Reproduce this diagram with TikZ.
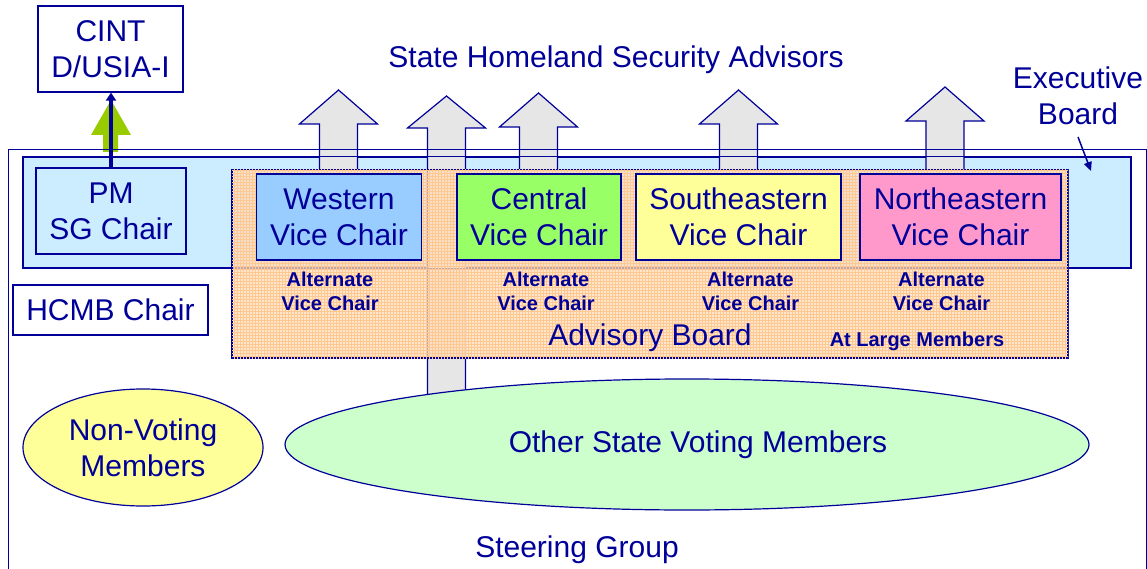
\documentclass[tikz,border=0pt]{standalone}
\usepackage{fontspec}
\setmainfont{Liberation Sans}
\usepackage{tikz}
\usetikzlibrary{shapes,arrows.meta,patterns,positioning}

\definecolor{navy}{HTML}{000099}
\definecolor{execfill}{HTML}{CCECFF}
\definecolor{westfill}{HTML}{99CCFF}
\definecolor{centfill}{HTML}{99FF66}
\definecolor{southfill}{HTML}{FFFF99}
\definecolor{northfill}{HTML}{FF99CC}
\definecolor{votefill}{HTML}{CCFFCC}
\definecolor{blockfill}{HTML}{E6E6E6}
\definecolor{pmgreen}{HTML}{99CC00}
\definecolor{advfill}{HTML}{FFDDBB}
\definecolor{advgrid}{HTML}{FFC890}

\begin{document}
\begin{tikzpicture}[x=1pt,y=-1pt]
            \tikzstyle{box}=[rectangle,draw=navy,line width=1.2pt,text=navy,inner sep=0pt,align=center,font=\fontsize{30}{36}\selectfont]
            \tikzstyle{txt}=[text=navy,inner sep=0pt,align=center,font=\fontsize{30}{36}\selectfont]
            \tikzstyle{small}=[text=navy,inner sep=0pt,align=center,font=\bfseries\fontsize{20}{24}\selectfont]
            \tikzstyle{oval}=[ellipse,draw=navy,line width=1.2pt,text=navy,inner sep=0pt,align=center,font=\fontsize{30}{36}\selectfont]
            \tikzstyle{block}=[fill=blockfill,draw=navy,line width=1.2pt]   % up arrows
            \tikzstyle{link}=[draw=navy,line width=4pt]

            \useasboundingbox (0,0) rectangle (1147,569);

            % steering group frame
            \draw[navy,line width=1pt] (8,580) -- (8,150) -- (1146,150) -- (1146,580);

            \node[box,fill=execfill,minimum width=1108,minimum height=111] (exec) at (577,212.5) {};
            \node[box,fill=white,minimum width=145,minimum height=86] (cint) at (110.5,49) {CINT\\D/USIA-I};
            \node[box,fill=execfill,minimum width=150,minimum height=86] (pm) at (111,211) {PM\\SG Chair};
            \node[box,fill=white,minimum width=195,minimum height=50] (hcmb) at (110.5,310) {HCMB Chair};

            \fill[pmgreen] (103,152) -- (103,135) -- (91,135) -- (111,100) -- (131,135) -- (118,135) -- (118,152) -- cycle;
            \draw[link,-{Triangle[length=8pt,width=10pt]}] (pm.north) -- (pm.north |- cint.south);

            \filldraw[block] (319.5,170) -- (319.5,124) -- (299.5,124) -- (338.5,90) -- (377.5,124) -- (357.5,124) -- (357.5,170) -- cycle;
            \filldraw[block] (427.5,400) -- (427.5,128) -- (407.5,128) -- (446.5,96) -- (485.5,128) -- (465.5,128) -- (465.5,400) -- cycle;
            \filldraw[block] (519.5,170) -- (519.5,127) -- (499.5,127) -- (538.5,93) -- (577.5,127) -- (557.5,127) -- (557.5,170) -- cycle;
            \filldraw[block] (719.5,170) -- (719.5,124) -- (699.5,124) -- (738.5,90) -- (777.5,124) -- (757.5,124) -- (757.5,170) -- cycle;
            \filldraw[block] (926,170) -- (926,121) -- (906,121) -- (945,87) -- (984,121) -- (964,121) -- (964,170) -- cycle;

            \draw[navy,line width=1pt] (8,150) -- (1146,150);
            \draw[navy,line width=1.2pt] (exec.north west) rectangle (exec.south east);

            \node[oval,fill=southfill,minimum width=240,minimum height=117] (nonvote) at (143,447.5) {Non-Voting\\Members};
            \node[oval,fill=votefill,minimum width=804,minimum height=131] (vote) at (687,444.5) {};
            \node[txt] (votelabel) at (698,445) {Other State Voting Members};

            % advisory board, see-through
            \node[rectangle,draw=navy,line width=1.2pt,fill=advfill,fill opacity=0.75,
                  postaction={pattern=grid,pattern color=advgrid,fill opacity=0.5},
                  minimum width=836,minimum height=188] (adv) at (650,264) {};

            \node[box,fill=westfill,minimum width=165,minimum height=86] (west) at (339,217) {Western\\Vice Chair};
            \node[box,fill=centfill,minimum width=164,minimum height=86] (cent) at (539,217) {Central\\Vice Chair};
            \node[box,fill=southfill,minimum width=205,minimum height=86] (south) at (738.5,217) {Southeastern\\Vice Chair};
            \node[box,fill=northfill,minimum width=201,minimum height=86] (north) at (960.5,217) {Northeastern\\Vice Chair};

            \node[small] (alt1) at (330,291.5) {Alternate\\Vice Chair};
            \node[small] (alt2) at (546,291.5) {Alternate\\Vice Chair};
            \node[small] (alt3) at (750.5,291.5) {Alternate\\Vice Chair};
            \node[small] (alt4) at (941.5,291.5) {Alternate\\Vice Chair};
            \node[txt,anchor=base] (advlabel) at (650,345) {Advisory Board};
            \node[small,anchor=base] (large) at (917,346) {At Large Members};

            \node[txt,anchor=base] (shsa) at (616,68) {State Homeland Security Advisors};
            \node[txt] (execlabel) at (1078,95.5) {Executive\\Board};
            \node[txt,anchor=base] (steer) at (577,557) {Steering Group};

            \coordinate (execfrom) at (1078,137);
            \coordinate (execto) at (1091,171);
            \draw[navy,line width=1.5pt,-{Triangle[length=9pt,width=8pt]}] (execfrom) -- (execto);
        \end{tikzpicture}
\end{document}
